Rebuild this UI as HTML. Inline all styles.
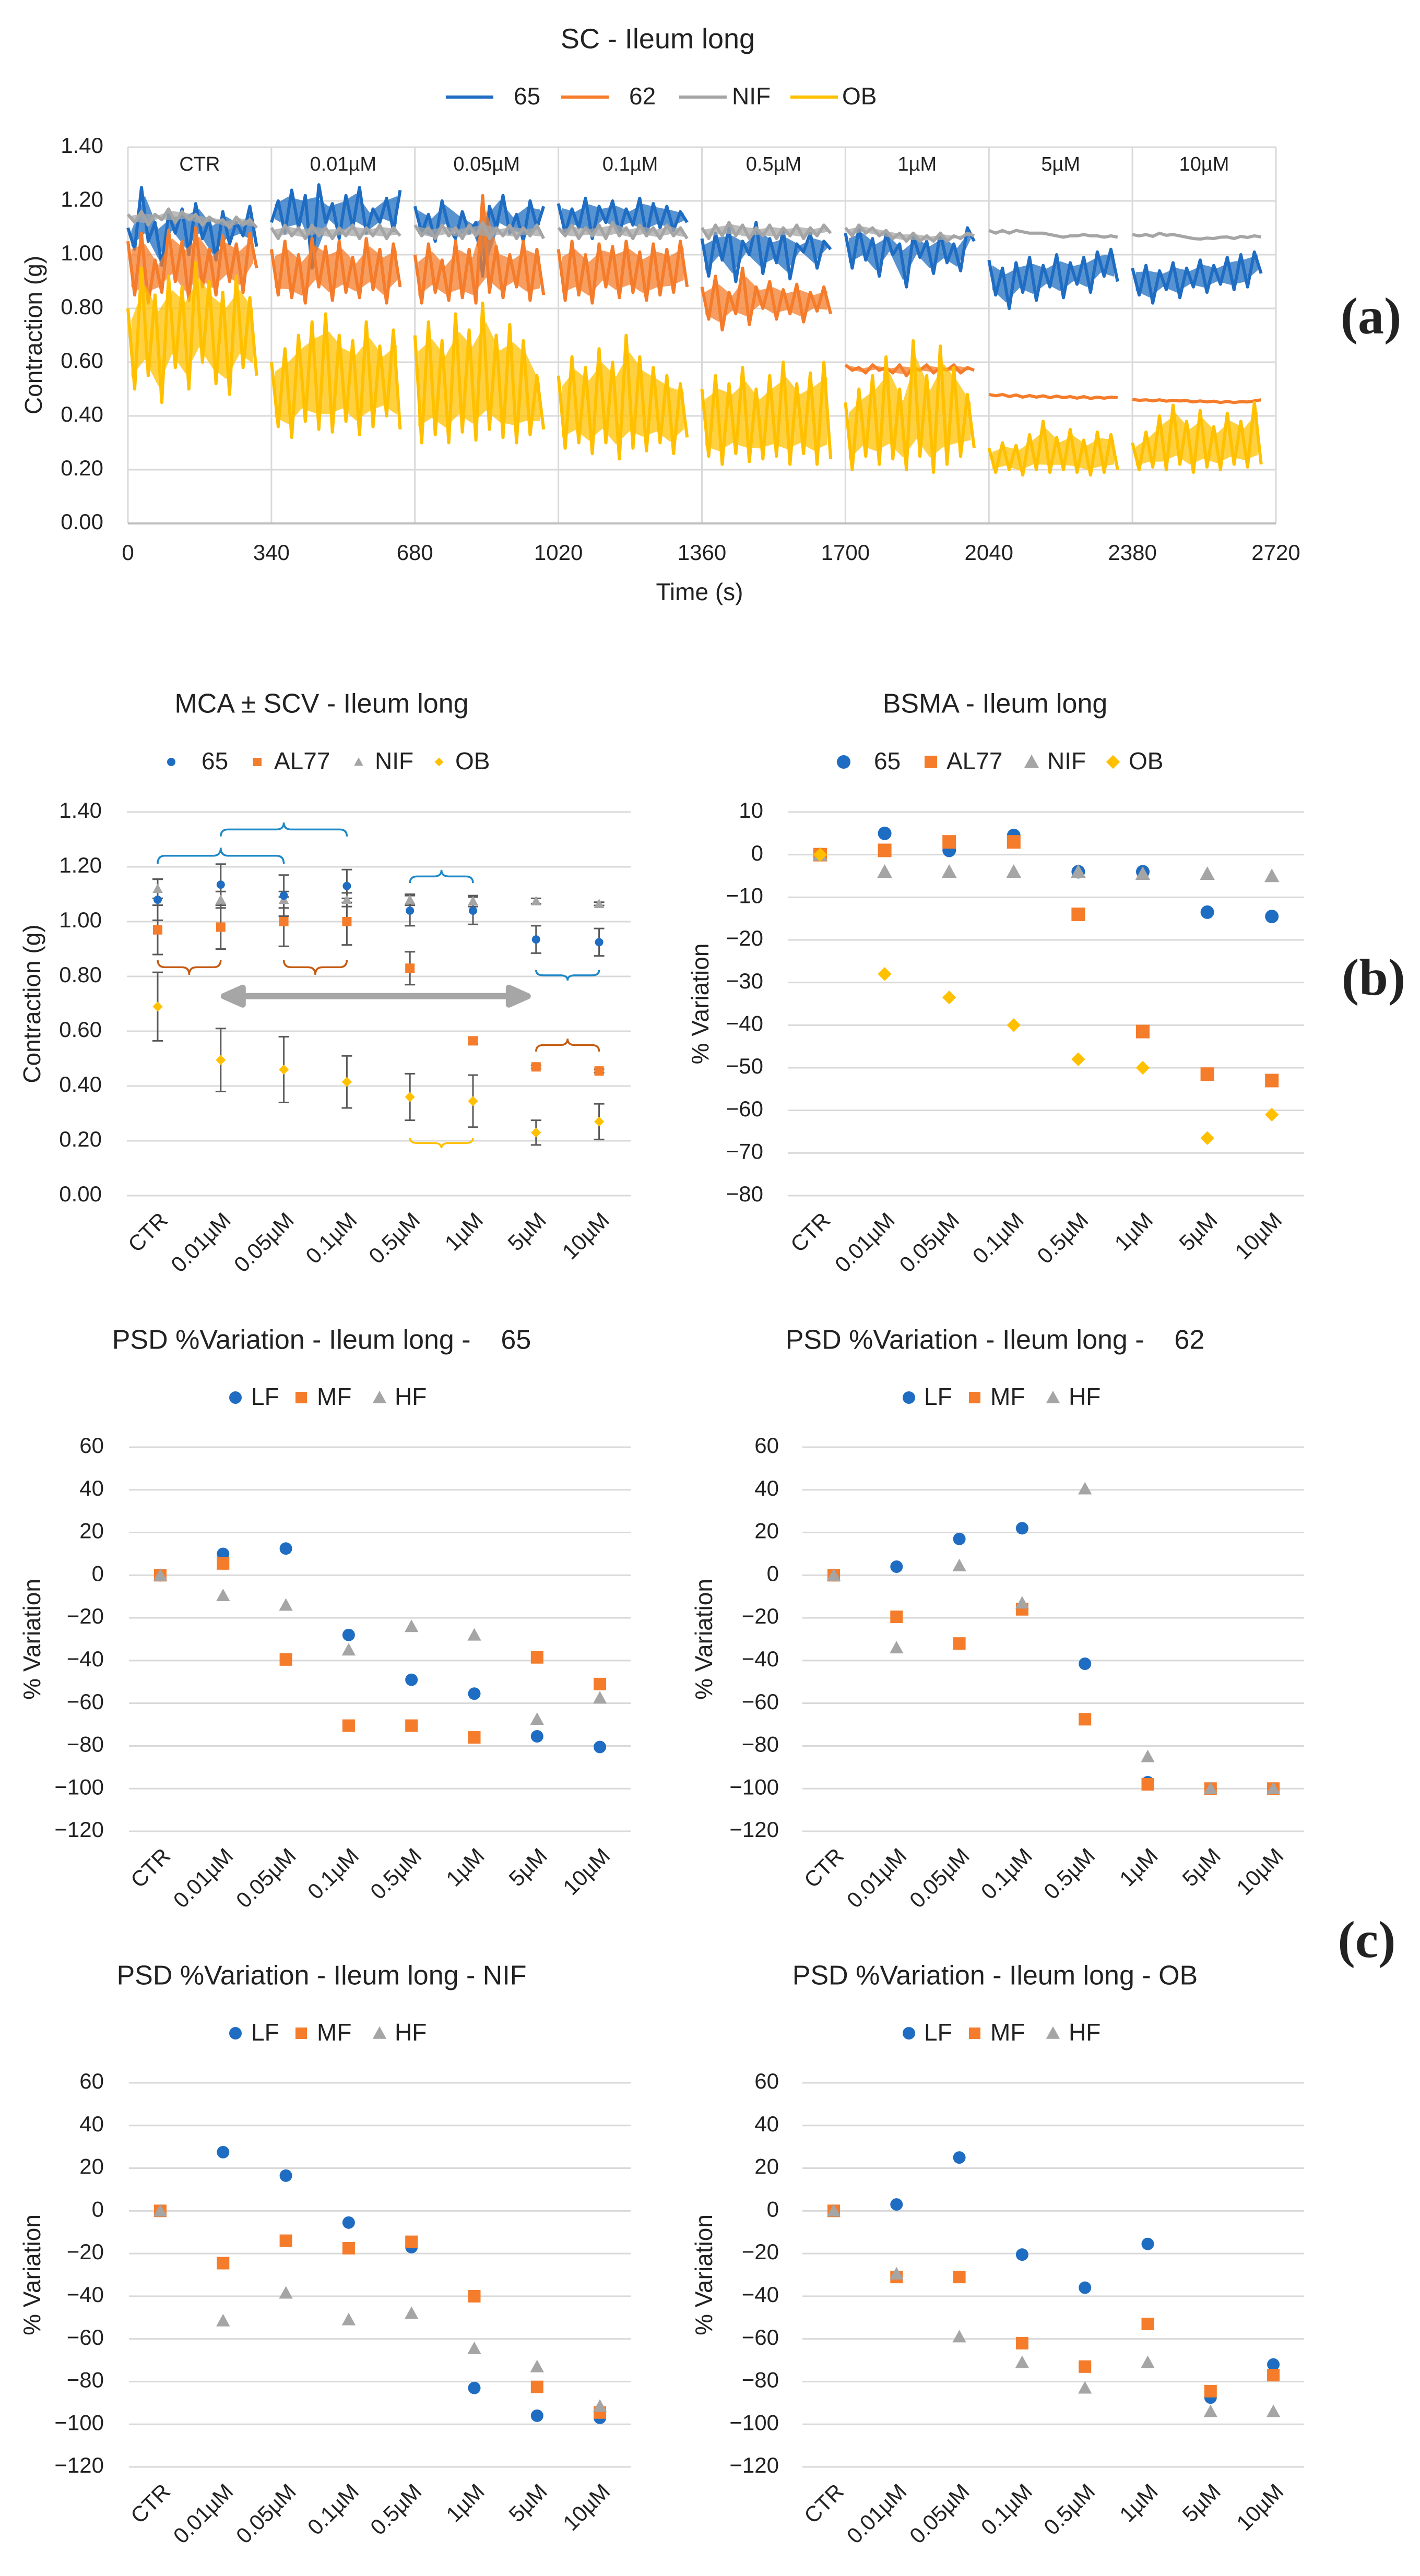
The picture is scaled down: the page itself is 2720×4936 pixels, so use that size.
<!DOCTYPE html>
<html>
<head>
<meta charset="utf-8">
<style>
html,body{margin:0;padding:0;background:#fff;}
svg{display:block;}
text{font-family:"Liberation Sans",sans-serif;fill:#222;white-space:pre;}
</style>
</head>
<body>
<svg id="fig" xmlns="http://www.w3.org/2000/svg" width="2720" height="4936" viewBox="0 0 2720 4936"></svg>
<script>
// ===== Chart (a) data: traces per segment =====
const segLabels = ["CTR","0.01µM","0.05µM","0.1µM","0.5µM","1µM","5µM","10µM"];
const timeTicks = [0,340,680,1020,1360,1700,2040,2380,2720];
const contractionTicks = [0,0.2,0.4,0.6,0.8,1.0,1.2,1.4];
const trace65 = [
 [1.10,1.02,1.25,1.05,1.12,0.96,1.15,1.08,1.17,1.00,1.19,1.06,1.13,0.98,1.16,1.04,1.12,1.07,1.18,1.03],
 [1.12,1.20,1.08,1.24,1.10,1.22,0.95,1.26,1.12,1.19,1.06,1.22,1.10,1.25,1.08,1.17,1.12,1.21,1.09,1.24],
 [1.18,1.08,1.15,1.05,1.20,1.10,1.06,1.16,1.08,1.12,0.92,1.18,1.10,1.22,1.08,1.15,1.05,1.20,1.10,1.18],
 [1.19,1.08,1.17,1.10,1.21,1.06,1.18,1.12,1.20,1.08,1.17,1.11,1.21,1.07,1.19,1.10,1.18,1.09,1.16,1.12],
 [1.06,0.92,1.08,0.98,1.10,0.90,1.05,1.00,1.12,0.93,1.06,0.97,1.09,0.91,1.04,1.01,1.08,0.95,1.05,1.02],
 [1.08,0.95,1.10,0.98,1.06,0.92,1.08,1.00,1.04,0.88,1.07,0.99,1.05,0.93,1.08,0.97,1.04,0.94,1.10,1.05],
 [0.98,0.85,0.95,0.80,0.97,0.86,0.99,0.83,0.96,0.88,1.00,0.84,0.97,0.89,0.99,0.86,1.01,0.92,1.02,0.90],
 [0.95,0.85,0.96,0.82,0.94,0.87,0.97,0.84,0.95,0.88,0.98,0.86,0.96,0.89,0.99,0.87,1.00,0.88,1.01,0.93]
];
const trace62 = [
 [1.05,0.85,1.08,0.82,0.98,0.86,1.09,0.90,1.05,0.83,1.10,0.88,1.02,0.85,1.07,0.90,1.04,0.86,1.08,0.95],
 [1.02,0.85,1.05,0.84,1.00,0.82,1.06,0.88,1.03,0.83,1.05,0.86,0.99,0.84,1.06,0.87,1.02,0.82,1.04,0.88],
 [1.00,0.82,1.04,0.86,0.98,0.83,1.05,0.84,1.02,0.82,1.22,0.86,1.03,0.84,1.00,0.88,1.05,0.83,1.02,0.85],
 [1.02,0.83,1.05,0.85,1.00,0.82,1.04,0.88,1.03,0.84,1.05,0.86,1.01,0.83,1.04,0.85,1.02,0.86,1.05,0.88],
 [0.88,0.76,0.92,0.72,0.86,0.78,0.95,0.74,0.88,0.80,0.90,0.76,0.87,0.78,0.89,0.75,0.86,0.79,0.88,0.78],
 [0.59,0.57,0.58,0.56,0.59,0.57,0.58,0.56,0.59,0.55,0.58,0.57,0.59,0.56,0.58,0.57,0.59,0.56,0.58,0.57],
 [0.48,0.475,0.48,0.472,0.478,0.47,0.476,0.47,0.475,0.468,0.474,0.468,0.472,0.466,0.472,0.465,0.47,0.466,0.47,0.468],
 [0.462,0.458,0.46,0.456,0.46,0.455,0.458,0.456,0.457,0.452,0.456,0.452,0.455,0.45,0.454,0.45,0.453,0.452,0.456,0.46]
];
const traceNIF = [
 [1.15,1.12,1.16,1.11,1.15,1.13,1.17,1.12,1.16,1.13,1.15,1.11,1.14,1.12,1.13,1.10,1.14,1.11,1.13,1.10],
 [1.10,1.06,1.11,1.07,1.10,1.06,1.11,1.07,1.10,1.06,1.10,1.07,1.11,1.06,1.10,1.07,1.11,1.06,1.10,1.07],
 [1.11,1.07,1.10,1.06,1.11,1.07,1.10,1.06,1.11,1.07,1.12,1.06,1.10,1.07,1.11,1.06,1.10,1.07,1.11,1.06],
 [1.10,1.07,1.11,1.06,1.10,1.07,1.11,1.06,1.12,1.07,1.10,1.06,1.11,1.07,1.10,1.06,1.11,1.07,1.10,1.06],
 [1.10,1.06,1.11,1.07,1.12,1.07,1.11,1.06,1.10,1.07,1.11,1.06,1.10,1.07,1.11,1.06,1.10,1.07,1.11,1.08],
 [1.10,1.07,1.11,1.08,1.10,1.07,1.09,1.06,1.08,1.05,1.08,1.05,1.07,1.05,1.08,1.05,1.07,1.06,1.08,1.07],
 [1.09,1.08,1.09,1.08,1.09,1.085,1.08,1.08,1.08,1.075,1.07,1.065,1.07,1.07,1.075,1.07,1.07,1.065,1.07,1.065],
 [1.075,1.07,1.075,1.068,1.08,1.072,1.075,1.07,1.065,1.06,1.058,1.062,1.06,1.065,1.066,1.06,1.068,1.064,1.07,1.066]
];
const traceOB = [
 [0.80,0.50,0.95,0.55,0.85,0.45,0.92,0.58,0.88,0.50,0.97,0.60,0.90,0.52,0.86,0.48,0.92,0.58,0.84,0.55],
 [0.60,0.36,0.65,0.32,0.70,0.38,0.75,0.35,0.78,0.34,0.70,0.38,0.68,0.33,0.75,0.36,0.66,0.40,0.72,0.35],
 [0.70,0.30,0.75,0.33,0.68,0.30,0.78,0.34,0.72,0.31,0.82,0.35,0.70,0.32,0.74,0.30,0.68,0.33,0.55,0.35],
 [0.55,0.28,0.62,0.30,0.58,0.26,0.65,0.30,0.60,0.24,0.70,0.28,0.62,0.27,0.58,0.30,0.55,0.26,0.52,0.32],
 [0.50,0.25,0.55,0.22,0.52,0.26,0.58,0.23,0.50,0.24,0.55,0.25,0.60,0.22,0.52,0.26,0.56,0.22,0.60,0.24],
 [0.45,0.20,0.50,0.25,0.55,0.22,0.62,0.24,0.50,0.20,0.68,0.25,0.55,0.19,0.66,0.22,0.58,0.25,0.48,0.28],
 [0.28,0.19,0.30,0.20,0.29,0.18,0.33,0.20,0.38,0.19,0.32,0.20,0.35,0.19,0.31,0.18,0.34,0.19,0.33,0.20],
 [0.30,0.20,0.34,0.21,0.40,0.20,0.44,0.22,0.38,0.19,0.42,0.21,0.36,0.20,0.41,0.22,0.38,0.21,0.45,0.22]
];
// ===== Panel (b) data =====
const categories = ["CTR","0.01µM","0.05µM","0.1µM","0.5µM","1µM","5µM","10µM"];
const mca65 = [1.08,1.135,1.095,1.13,1.04,1.04,0.935,0.925];
const mca65Err = [0.075,0.075,0.075,0.06,0.055,0.05,0.05,0.05];
const mcaAL77 = [0.97,0.98,1.0,1.0,0.83,0.565,0.47,0.455];
const mcaAL77Err = [0.09,0.08,0.09,0.085,0.06,0.012,0.006,0.006];
const mcaNIF = [1.12,1.08,1.08,1.08,1.08,1.075,1.075,1.065];
const mcaNIFErr = [0.035,0.03,0.03,0.025,0.02,0.02,0.01,0.006];
const mcaOB = [0.69,0.495,0.46,0.415,0.36,0.345,0.23,0.27];
const mcaOBErr = [0.125,0.115,0.12,0.095,0.085,0.095,0.045,0.065];
const bsma65 = [0,5,1,4.5,-4,-4,-13.5,-14.5];
const bsmaAL77 = [0,1,3,3,-14,-41.5,-51.5,-53];
const bsmaNIF = [0,-4,-4,-4,-4,-4.5,-4.5,-5];
const bsmaOB = [0,-28,-33.5,-40,-48,-50,-66.5,-61];
const bsmaTicks = [10,0,-10,-20,-30,-40,-50,-60,-70,-80];
// ===== Panel (c) data =====
const psdTicks = [60,40,20,0,-20,-40,-60,-80,-100,-120];
const psd65LF = [0,10,12.5,-28,-49,-55.5,-75.5,-80.5];
const psd65MF = [0,5.5,-39.5,-70.5,-70.5,-76,-38.5,-51];
const psd65HF = [0,-9.5,-14,-35,-24,-28,-67.5,-57.5];
const psd62LF = [0,4,17,22,-41.5,-97,-100,-100];
const psd62MF = [0,-19.5,-32,-16,-67.5,-98,-100,-100];
const psd62HF = [0,-34,4.5,-13,40.5,-85,-100,-100];
const psdNIFLF = [0,27.5,16.5,-5.5,-17,-83,-96,-97];
const psdNIFMF = [0,-24.5,-14,-17.5,-14.5,-40,-82.5,-94.5];
const psdNIFHF = [0,-51.5,-38.5,-51,-48,-64.5,-73,-91.5];
const psdOBLF = [0,3,25,-20.5,-36,-15.5,-87.5,-72];
const psdOBMF = [0,-31,-31,-62,-73,-53,-84.5,-77];
const psdOBHF = [0,-29.5,-59,-71,-83,-71,-94,-94];

const BLUE="#1F6DC2", ORANGE="#F47C2B", GRAY="#A5A5A5", YEL="#FFC000", GRID="#D9D9D9";
const NS="http://www.w3.org/2000/svg";
const svg=document.getElementById('fig');
function el(tag,attrs,parent){const e=document.createElementNS(NS,tag);for(const k in attrs)e.setAttribute(k,attrs[k]);(parent||svg).appendChild(e);return e;}
function txt(s,attrs,parent){const t=el('text',attrs,parent);t.textContent=s;return t;}
function fmtMinus(v){return (v<0?"\u2212"+Math.abs(v):String(v));}

// ================= Chart (a) =================
(function(){
  const g=el('g',{});
  
  
  const X0=245,X1=2444,YT=282,YB=1003;
  const xs=t=>X0+(t/2720)*(X1-X0);
  const ys=v=>YB-(v/1.4)*(YB-YT);
  const t1=txt("SC - Ileum long",{x:1260,y:78,'font-size':54,'text-anchor':'middle','dominant-baseline':'middle'},g);
   
  const leg=[[854,984,BLUE,"65"],[1075,1205,ORANGE,"62"],[1301,1402,GRAY,"NIF"],[1514,1613,YEL,"OB"]];
  leg.forEach(l=>{
    const lg=el('g',{},g);
     
    el('line',{x1:l[0],x2:l[0]+91,y1:186,y2:186,stroke:l[2],'stroke-width':6},lg);
    txt(l[3],{x:l[1],y:188,'font-size':46,'dominant-baseline':'middle'},lg);
  });
  contractionTicks.forEach(v=>{
    el('line',{x1:X0,x2:X1,y1:ys(v),y2:ys(v),stroke:GRID,'stroke-width':3},g);
    const t=txt(v.toFixed(2),{x:198,y:ys(v),'font-size':42,'text-anchor':'end','dominant-baseline':'middle'},g);
     
  });
  timeTicks.forEach(tv=>{
    el('line',{x1:xs(tv),x2:xs(tv),y1:YT,y2:YB,stroke:GRID,'stroke-width':3},g);
    const t=txt(String(tv),{x:xs(tv),y:1062,'font-size':42,'text-anchor':'middle','dominant-baseline':'middle'},g);
     
  });
  el('line',{x1:X0,x2:X1,y1:YB,y2:YB,stroke:"#BFBFBF",'stroke-width':4},g);
  segLabels.forEach((s,i)=>{
    const t=txt(s,{x:xs(340*i+170),y:317,'font-size':38,'text-anchor':'middle','dominant-baseline':'middle'},g);
     
  });
  const ax=txt("Time (s)",{x:1340,y:1138,'font-size':46,'text-anchor':'middle','dominant-baseline':'middle'},g);
   
  const ay=txt("Contraction (g)",{x:0,y:0,'font-size':46,'text-anchor':'middle','dominant-baseline':'middle',transform:'translate(68,642) rotate(-90)'},g);
   
  const series=[[trace65,BLUE,'trace-65'],[trace62,ORANGE,'trace-62'],[traceNIF,GRAY,'trace-nif'],[traceOB,YEL,'trace-ob']];
  series.forEach(sr=>{
    sr[0].forEach((seg,si)=>{
      const n=seg.length;
      const tx=k=>xs(340*si+(k/(n-1))*305);
      // band built from the sample values (upper/lower envelope of pairs)
      const up=[],lo=[];
      for(let k=0;k<n;k+=2){
        const a=seg[k],b=seg[Math.min(k+1,n-1)];
        const xm=(tx(k)+tx(Math.min(k+1,n-1)))/2;
        const hi=Math.max(a,b),lw=Math.min(a,b);
        up.push(xm.toFixed(1)+","+ys(hi-(hi-lw)*0.15).toFixed(1));
        lo.unshift(xm.toFixed(1)+","+ys(lw+(hi-lw)*0.15).toFixed(1));
      }
      const band=el('polygon',{points:up.concat(lo).join(" "),fill:sr[1],'fill-opacity':0.75,stroke:'none'},g);
       
      const pts=seg.map((v,k)=>tx(k).toFixed(1)+","+ys(v).toFixed(1)).join(" ");
      const p=el('polyline',{points:pts,fill:'none',stroke:sr[1],'stroke-width':6,'stroke-linejoin':'round'},g);
       
    });
  });
  const lab=txt("(a)",{x:2626,y:616,'font-size':100,'font-weight':'bold','text-anchor':'middle','dominant-baseline':'middle',style:'font-family:"Liberation Serif",serif'},g);
   
})();

function marker(parent,shape,cx,cy,s,color){
  let m;
  if(shape==='circle') m=el('circle',{cx:cx,cy:cy,r:s,fill:color},parent);
  else if(shape==='square') m=el('rect',{x:cx-s,y:cy-s,width:2*s,height:2*s,fill:color},parent);
  else if(shape==='tri') m=el('polygon',{points:`${cx},${cy-s*1.1} ${cx-s*1.1},${cy+s*0.9} ${cx+s*1.1},${cy+s*0.9}`,fill:color},parent);
  else m=el('polygon',{points:`${cx},${cy-s*1.2} ${cx+s*1.2},${cy} ${cx},${cy+s*1.2} ${cx-s*1.2},${cy}`,fill:color},parent);
  return m;
}
function panel(c){
  const g=el('g',{});
   
  const ys=v=>c.yB-(v-c.vmin)/(c.vmax-c.vmin)*(c.yB-c.yT);
  const xs=i=>c.cx0+i*c.cstep;
  const t=txt(c.title,{x:c.titleX,y:c.titleY,'font-size':52,'text-anchor':'middle','dominant-baseline':'middle'},g);
   
  c.ticks.forEach(v=>{
    el('line',{x1:c.x0,x2:c.x1,y1:ys(v),y2:ys(v),stroke:GRID,'stroke-width':3},g);
    const tl=txt(c.fmt(v),{x:c.labelRight,y:ys(v),'font-size':42,'text-anchor':'end','dominant-baseline':'middle'},g);
     
  });
  categories.forEach((s,i)=>{
    const tl=txt(s,{x:0,y:0,'font-size':42,'text-anchor':'end','dominant-baseline':'middle',transform:`translate(${xs(i)+14},${c.yB+42}) rotate(-45)`},g);
     
  });
  if(c.yTitle){
    const yt=txt(c.yTitle,{x:0,y:0,'font-size':46,'text-anchor':'middle','dominant-baseline':'middle',transform:`translate(${c.yTitleX},${(c.yT+c.yB)/2}) rotate(-90)`},g);
     
  }
  c.legend.forEach(l=>{
    const lg=el('g',{},g);
     
    marker(lg,l.shape,l.mx,c.legY,l.ms,l.color);
    txt(l.label,{x:l.tx,y:c.legY+2,'font-size':46,'dominant-baseline':'middle'},lg);
  });
  if(c.pre) c.pre(g,xs,ys);
  c.series.forEach(s=>{
    s.vals.forEach((v,i)=>{
      if(s.err){
        const x=xs(i),e=s.err[i];
        const eb=el('path',{d:`M${x},${ys(v-e)}V${ys(v+e)}M${x-10},${ys(v-e)}h20M${x-10},${ys(v+e)}h20`,stroke:'#595959','stroke-width':3,fill:'none'},g);
         
      }
    });
  });
  c.series.forEach(s=>{
    s.vals.forEach((v,i)=>{
      const m=marker(g,s.shape,xs(i),ys(v),s.size,s.color);
       
    });
  });
  return {g,xs,ys};
}

function brace(g,x1,x2,yE,yT,color){
  const yM=(yE+yT)/2, xm=(x1+x2)/2, r=14;
  const d=`M${x1},${yE} Q${x1},${yM} ${x1+r},${yM} L${xm-r},${yM} Q${xm},${yM} ${xm},${yT} Q${xm},${yM} ${xm+r},${yM} L${x2-r},${yM} Q${x2},${yM} ${x2},${yE}`;
  const p=el('path',{d:d,stroke:color,'stroke-width':3.5,fill:'none'},g);
   
}
const braceSpec = [[0,2,1.211,1.27,"#1E88C8"],[1,3,1.311,1.362,"#1E88C8"],[4,5,1.141,1.189,"#1E88C8"],[6,7,0.823,0.785,"#1E88C8"],
  [0,1,0.861,0.806,"#C55A11"],[2,3,0.861,0.806,"#C55A11"],[6,7,0.526,0.573,"#C55A11"],[4,5,0.211,0.173,"#FFC000"]];
panel({name:'chart-b-mca',title:"MCA ± SCV - Ileum long",titleX:616,titleY:1352,legY:1460,
  x0:243,x1:1208,yT:1556,yB:2291,vmin:0,vmax:1.4,cx0:302,cstep:120.8,labelRight:195,
  ticks:contractionTicks,fmt:v=>v.toFixed(2),yTitle:"Contraction (g)",yTitleX:65,
  legend:[{shape:'circle',mx:328,ms:8,color:BLUE,label:'65',tx:386},{shape:'square',mx:493,ms:8,color:ORANGE,label:'AL77',tx:525},
          {shape:'tri',mx:687,ms:8,color:GRAY,label:'NIF',tx:718},{shape:'diamond',mx:841,ms:7,color:YEL,label:'OB',tx:872}],
  pre:(g,xs,ys)=>{
    braceSpec.forEach(b=>brace(g,xs(b[0]),xs(b[1]),ys(b[2]),ys(b[3]),b[4]));
    const y=ys(0.728), xa=xs(1)+6, xb=xs(6)-16;
    const ar=el('path',{d:`M${xa+30},${y}L${xb-30},${y}M${xa},${y}l36,-16v32zM${xb},${y}l-36,-16v32z`,stroke:'#A6A6A6','stroke-width':12,fill:'#A6A6A6','stroke-linejoin':'round'},g);
     
  },
  series:[{id:'mca-nif',vals:mcaNIF,err:mcaNIFErr,shape:'tri',size:9,color:GRAY},
          {id:'mca-65',vals:mca65,err:mca65Err,shape:'circle',size:8,color:BLUE},
          {id:'mca-al77',vals:mcaAL77,err:mcaAL77Err,shape:'square',size:9,color:ORANGE},
          {id:'mca-ob',vals:mcaOB,err:mcaOBErr,shape:'diamond',size:8,color:YEL}]
});
panel({name:'chart-b-bsma',title:"BSMA - Ileum long",titleX:1906,titleY:1352,legY:1460,
  x0:1509,x1:2498,yT:1556,yB:2291,vmin:-80,vmax:10,cx0:1571,cstep:123.6,labelRight:1462,
  ticks:bsmaTicks,fmt:fmtMinus,yTitle:"% Variation",yTitleX:1345,
  legend:[{shape:'circle',mx:1616,ms:13,color:BLUE,label:'65',tx:1674},{shape:'square',mx:1783,ms:12,color:ORANGE,label:'AL77',tx:1813},
          {shape:'tri',mx:1976,ms:13,color:GRAY,label:'NIF',tx:2006},{shape:'diamond',mx:2132,ms:11,color:YEL,label:'OB',tx:2162}],
  series:[{id:'bsma-65',vals:bsma65,shape:'circle',size:13,color:BLUE},
          {id:'bsma-al77',vals:bsmaAL77,shape:'square',size:13,color:ORANGE},
          {id:'bsma-nif',vals:bsmaNIF,shape:'tri',size:13,color:GRAY},
          {id:'bsma-ob',vals:bsmaOB,shape:'diamond',size:11,color:YEL}]
});
const lb=txt("(b)",{x:2631,y:1883,'font-size':100,'font-weight':'bold','text-anchor':'middle','dominant-baseline':'middle',style:'font-family:"Liberation Serif",serif'});
 

function psdPanel(name,title,left,row,lf,mf,hf){
  const dy=row*1218;
  const L=left?{x0:247,x1:1208,cx0:307,labelRight:199,titleX:616,yTitleX:65,lfx:451,lftx:481,mfx:577,mftx:607,hfx:727,hftx:756}
              :{x0:1537,x1:2498,cx0:1597,labelRight:1492,titleX:1906,yTitleX:1352,lfx:1741,lftx:1770,mfx:1867,mftx:1897,hfx:2017,hftx:2047};
  panel({name:name,title:title,titleX:L.titleX,titleY:2571+dy,legY:2678+dy,
    x0:L.x0,x1:L.x1,yT:2773+dy,yB:3509+dy,vmin:-120,vmax:60,cx0:L.cx0,cstep:120.3,labelRight:L.labelRight,
    ticks:psdTicks,fmt:fmtMinus,yTitle:"% Variation",yTitleX:L.yTitleX,
    legend:[{shape:'circle',mx:L.lfx,ms:12,color:BLUE,label:'LF',tx:L.lftx},{shape:'square',mx:L.mfx,ms:11,color:ORANGE,label:'MF',tx:L.mftx},
            {shape:'tri',mx:L.hfx,ms:12,color:GRAY,label:'HF',tx:L.hftx}],
    series:[{id:'lf',vals:lf,shape:'circle',size:12,color:BLUE},
            {id:'mf',vals:mf,shape:'square',size:12,color:ORANGE},
            {id:'hf',vals:hf,shape:'tri',size:12,color:GRAY}]
  });
}
psdPanel('chart-c-psd-65',"PSD %Variation - Ileum long -    65",true,0,psd65LF,psd65MF,psd65HF);
psdPanel('chart-c-psd-62',"PSD %Variation - Ileum long -    62",false,0,psd62LF,psd62MF,psd62HF);
psdPanel('chart-c-psd-nif',"PSD %Variation - Ileum long - NIF",true,1,psdNIFLF,psdNIFMF,psdNIFHF);
psdPanel('chart-c-psd-ob',"PSD %Variation - Ileum long - OB",false,1,psdOBLF,psdOBMF,psdOBHF);
const lc=txt("(c)",{x:2618,y:3727,'font-size':100,'font-weight':'bold','text-anchor':'middle','dominant-baseline':'middle',style:'font-family:"Liberation Serif",serif'});
 
</script>
</body>
</html>
